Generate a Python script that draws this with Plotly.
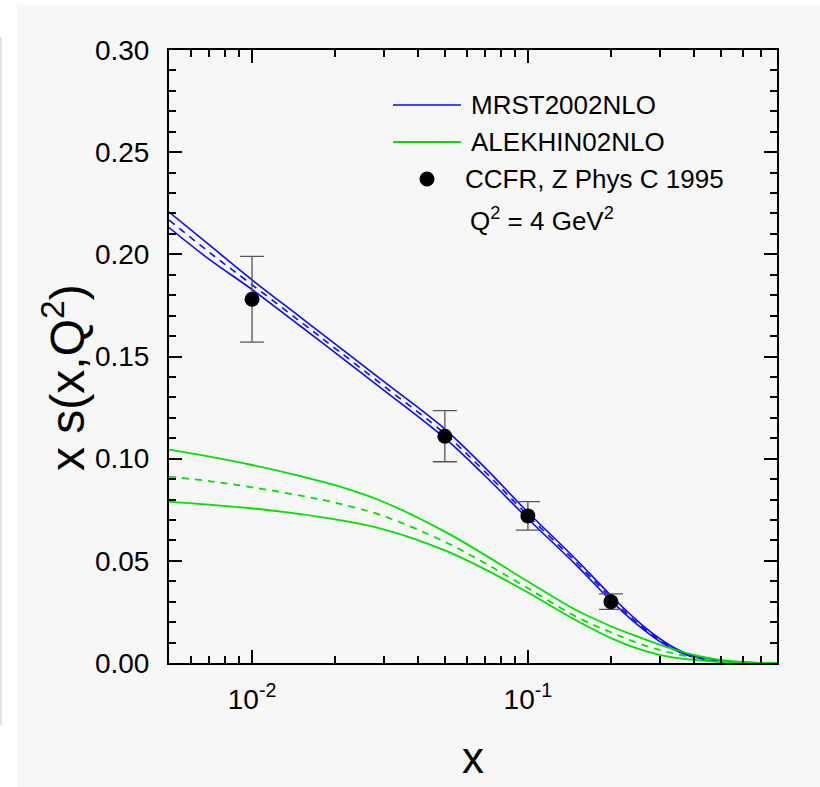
import numpy as np
import plotly.graph_objects as go

# ---- strange-quark distribution x s(x, Q^2) at Q^2 = 4 GeV^2 ----
x_grid = [0.005, 0.007, 0.01, 0.015, 0.02, 0.03, 0.05, 0.07, 0.1, 0.15,
          0.2, 0.25, 0.3, 0.35, 0.4, 0.5, 0.6, 0.7, 0.8]

mrst_upper = [0.2207, 0.2046, 0.1875, 0.1692, 0.1562, 0.1378, 0.1145, 0.0955,
              0.0738, 0.0505, 0.0330, 0.0205, 0.0120, 0.0065, 0.0034, 0.0010,
              0.0003, 0.0001, 0.0]
mrst_central = [0.2168, 0.2010, 0.1851, 0.1670, 0.1540, 0.1356, 0.1122, 0.0935,
                0.0722, 0.0492, 0.0318, 0.0195, 0.0113, 0.0060, 0.0031, 0.0009,
                0.0002, 0.0001, 0.0]
mrst_lower = [0.2131, 0.1975, 0.1828, 0.1648, 0.1519, 0.1336, 0.1100, 0.0915,
              0.0706, 0.0478, 0.0305, 0.0186, 0.0106, 0.0056, 0.0028, 0.0008,
              0.0002, 0.0, 0.0]

alekhin_upper = [0.1044, 0.1010, 0.0969, 0.0914, 0.0870, 0.0788, 0.0643, 0.0528,
                 0.0399, 0.0258, 0.0180, 0.0129, 0.0090, 0.0060, 0.0040, 0.0015,
                 0.0005, 0.0001, 0.0]
alekhin_central = [0.0912, 0.0890, 0.0860, 0.0819, 0.0785, 0.0719, 0.0593, 0.0488,
                   0.0366, 0.0226, 0.0150, 0.0098, 0.0064, 0.0042, 0.0027, 0.0010,
                   0.0003, 0.00005, 0.0]
alekhin_lower = [0.0789, 0.0775, 0.0757, 0.0729, 0.0703, 0.0654, 0.0551, 0.0458,
                 0.0345, 0.0208, 0.0122, 0.0070, 0.0040, 0.0024, 0.0015, 0.0005,
                 0.0001, 0.0, 0.0]

# CCFR data points
ccfr_x = [0.01, 0.05, 0.1, 0.2]
ccfr_y = [0.178, 0.111, 0.072, 0.030]
ccfr_err = [0.021, 0.0125, 0.007, 0.0038]

# axis ticks
y_ticks = [0.00, 0.05, 0.10, 0.15, 0.20, 0.25, 0.30]
x_ticks = [0.01, 0.1]
x_ticktext = ["10<sup>-2</sup>", "10<sup>-1</sup>"]
x_minor = [0.006, 0.007, 0.008, 0.009,
           0.02, 0.03, 0.04, 0.05, 0.06, 0.07, 0.08, 0.09,
           0.2, 0.3, 0.4, 0.5, 0.6, 0.7]

BLUE = "#0a0aff"
GREEN = "#00e000"
FONT = "Liberation Sans, Arial, sans-serif"
DASH = "7px,6px"

fig = go.Figure()

for ys, dash in [(mrst_upper, "solid"), (mrst_central, DASH), (mrst_lower, "solid")]:
    fig.add_trace(go.Scatter(x=x_grid, y=ys, mode="lines", line_shape="spline",
                             line=dict(color=BLUE, width=1.6, dash=dash),
                             showlegend=False, hoverinfo="skip"))

for ys, dash in [(alekhin_upper, "solid"), (alekhin_central, DASH), (alekhin_lower, "solid")]:
    fig.add_trace(go.Scatter(x=x_grid, y=ys, mode="lines", line_shape="spline",
                             line=dict(color=GREEN, width=1.8, dash=dash),
                             showlegend=False, hoverinfo="skip"))

fig.add_trace(go.Scatter(
    x=ccfr_x, y=ccfr_y, mode="markers",
    marker=dict(color="black", size=15),
    error_y=dict(type="data", array=ccfr_err, visible=True,
                 color="#555555", thickness=1.3, width=12),
    showlegend=False))

# ---- plot-area geometry in pixels (for paper-coordinate helpers) ----
W, H = 820, 787
L, R, T, B = 169, 43, 50, 124
PW, PH = W - L - R, H - T - B


def px(xp):
    return (xp - L) / PW


def py(yp):
    return (H - B - yp) / PH


shapes = [
    # light panel behind the figure
    dict(type="rect", xref="paper", yref="paper", layer="below",
         x0=px(17), x1=px(821), y0=py(788), y1=py(5),
         fillcolor="#f7f7f7", line=dict(width=0)),
    dict(type="line", xref="paper", yref="paper", layer="below",
         x0=px(1), x1=px(1), y0=py(725), y1=py(37),
         line=dict(color="#e2e2e2", width=2)),
    # key samples
    dict(type="line", xref="paper", yref="paper",
         x0=px(393), x1=px(461), y0=py(105), y1=py(105),
         line=dict(color=BLUE, width=1.6)),
    dict(type="line", xref="paper", yref="paper",
         x0=px(393), x1=px(461), y0=py(142), y1=py(142),
         line=dict(color=GREEN, width=1.8)),
    dict(type="circle", xref="paper", yref="paper",
         x0=px(427 - 7.5), x1=px(427 + 7.5), y0=py(179 + 7.5), y1=py(179 - 7.5),
         fillcolor="black", line=dict(width=0)),
]

key_font = dict(family=FONT, size=26, color="black")
annotations = [
    dict(text="MRST2002NLO", x=px(469), y=py(105)),
    dict(text="ALEKHIN02NLO", x=px(469), y=py(142)),
    dict(text="CCFR, Z Phys C 1995", x=px(463), y=py(179)),
    dict(text="Q<sup>2</sup> = 4 GeV<sup>2</sup>", x=px(468), y=py(219)),
]
for a in annotations:
    a.update(xref="paper", yref="paper", xanchor="left", yanchor="middle",
             showarrow=False, font=key_font)

annotations += [
    dict(text="x s(x,Q<sup>2</sup>)", x=px(64), y=py(378), xref="paper", yref="paper",
         textangle=-90, showarrow=False,
         font=dict(family=FONT, size=48, color="black"),
         xanchor="center", yanchor="middle"),
    dict(text="x", x=0.5, y=py(757), xref="paper", yref="paper",
         showarrow=False, font=dict(family=FONT, size=44, color="black"),
         xanchor="center", yanchor="middle"),
]

fig.update_layout(
    width=W, height=H,
    margin=dict(l=L, r=R, t=T, b=B, pad=0),
    paper_bgcolor="white", plot_bgcolor="#f7f7f7",
    font=dict(family=FONT, color="black"),
    shapes=shapes, annotations=annotations,
    showlegend=False,
)

axis_common = dict(
    showline=True, linecolor="black", linewidth=2, mirror="ticks",
    ticks="inside", ticklen=13, tickwidth=2, tickcolor="black",
    showgrid=False, zeroline=False,
    tickfont=dict(family=FONT, size=28, color="black"),
)

fig.update_xaxes(
    type="log", range=[np.log10(0.005), np.log10(0.8)],
    tickmode="array", tickvals=x_ticks, ticktext=x_ticktext,
    ticklabelstandoff=10,
    minor=dict(tickmode="array", tickvals=x_minor, ticks="inside",
               ticklen=7, tickwidth=2, tickcolor="black", showgrid=False),
    **axis_common,
)
fig.update_yaxes(
    range=[0, 0.30],
    tickmode="array", tickvals=y_ticks, tickformat=".2f",
    ticklabelstandoff=12,
    minor=dict(dtick=0.01, tick0=0, ticks="inside",
               ticklen=7, tickwidth=2, tickcolor="black", showgrid=False),
    **axis_common,
)

fig.write_html("out.html")
